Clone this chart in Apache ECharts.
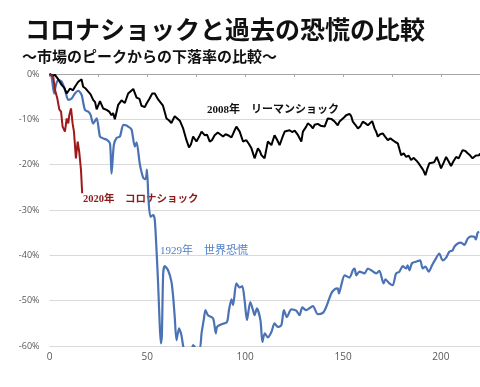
<!DOCTYPE html>
<html><head><meta charset="utf-8">
<script src="https://cdn.jsdelivr.net/npm/echarts@6/dist/echarts.min.js"></script>
<style>html,body{margin:0;padding:0;background:#fff}#c{width:480px;height:387px}</style>
</head><body><div id="c"></div>
<script>
// x: 経過日数(週) , y: ピークからの下落率(%)
const lehman2008 = [[0,0],[1.5,-0.3],[2.8,-0.2],[4.5,-1.2],[6.2,-2.4],[7.5,-3],[8.8,-4.3],[10.5,-3.2],[12,-3.6],[13,-2.8],[14.7,-1.7],[16.4,-1.2],[17.2,-2.8],[18.5,-3.2],[19.8,-3.9],[21,-4.5],[22.3,-5.7],[23.3,-6.2],[24.1,-7.8],[25.8,-6],[27.4,-7.6],[29.2,-7.9],[30.5,-8.3],[31.7,-9.1],[32.5,-8.6],[33.4,-10],[35.1,-6.8],[36.8,-5.8],[38.5,-6.4],[40.2,-4.3],[41.5,-3.8],[42.8,-3.3],[44.5,-5.2],[46,-5.5],[47,-7],[48.7,-7.3],[49.6,-6.5],[51,-5.5],[52.5,-4.3],[53.8,-4.3],[55.5,-5.6],[56.5,-5.7],[58,-7],[59.8,-9.8],[61,-10.2],[62.3,-10.8],[63.2,-10.9],[64,-9.3],[64.9,-9.4],[66.6,-10.3],[68.3,-12],[70,-14.6],[71.3,-16.2],[72.3,-15.5],[73.4,-13.8],[75.1,-14.9],[76.5,-13.8],[77.7,-12.7],[79.3,-13.5],[80.5,-13.4],[81.9,-14.9],[83,-14.6],[84.4,-13.5],[86,-12.9],[87,-12.7],[88.7,-13.8],[90,-13.3],[91.2,-13.5],[93,-14],[94.2,-12.8],[95.5,-11.6],[96.5,-12],[97.2,-12.7],[98.9,-14.9],[100.6,-14.6],[102,-15.5],[103.2,-16.4],[104.8,-18.6],[106.5,-16.4],[107.5,-17],[108.3,-17.9],[109.9,-18.6],[111.6,-14.9],[112.5,-15.3],[113.4,-15.7],[115,-13.5],[116.3,-14.5],[117.6,-15.7],[119,-14],[120.2,-12.7],[122.7,-12.4],[124,-12.8],[125.3,-12.5],[127,-13.5],[128.7,-14.9],[129.5,-12.7],[131.2,-11.6],[132,-10.9],[133.3,-11.3],[134.6,-12],[135.5,-11.2],[137.1,-11],[138.5,-11.4],[140.6,-11.6],[142.2,-9.8],[143,-10.2],[144,-9.9],[145.7,-10.5],[147.3,-11.3],[148.2,-10.5],[149.1,-10.2],[150.5,-9.6],[151.6,-9.1],[153.3,-8.8],[154.2,-9.3],[155,-10.5],[156.3,-11.2],[157.6,-12],[158.9,-11.5],[160.1,-10.5],[161.5,-10.9],[162.7,-11.3],[164.9,-10.4],[166.1,-12],[167,-12.8],[167.8,-13.8],[169,-13.3],[170.3,-13.1],[171.5,-13.8],[172.9,-14.6],[174.2,-14.2],[175.4,-14.6],[176.7,-15],[178,-15.3],[179.7,-17.9],[181,-17.5],[182.3,-18.3],[183.5,-18],[184.8,-19],[186,-18.5],[187.3,-19],[188.5,-19.6],[189.9,-20.5],[191,-21.2],[192.1,-22.3],[193,-21],[194.1,-19.7],[195.5,-19.6],[196.7,-19.4],[197.9,-18.3],[199,-19.5],[200.1,-20.8],[201.5,-19.5],[202.7,-18.3],[204,-19.3],[205.2,-20.3],[206.5,-19.2],[207.8,-18.3],[209.1,-18.6],[211.1,-16.8],[212.5,-17],[213.7,-17.5],[215,-18],[216.2,-18.6],[217.9,-18],[219.6,-17.9],[220,-17.5]];

const depression1929 = [[0,0],[1,-0.5],[2.4,-4.3],[3.3,-2.4],[4.5,-1.3],[6.2,-1.7],[7.9,-3.5],[9.6,-5.7],[11.3,-5.4],[13,-4.3],[14.7,-3.7],[16.4,-4.6],[18.1,-7.9],[19.8,-8.3],[21,-9],[22.3,-10.9],[24.1,-9.8],[25.8,-13.8],[27.4,-14.2],[29.2,-14.5],[30.9,-15.3],[31.7,-22],[32.9,-15.6],[34.3,-14.1],[36,-13.8],[37.7,-11.2],[39,-11.3],[40.2,-11.6],[41.9,-12.2],[43.6,-16],[44.5,-15.1],[46.2,-20],[47.9,-22.9],[49.1,-23.2],[49.8,-21.1],[50.6,-27.8],[51.6,-31.5],[53,-31.1],[53.8,-32.2],[54.7,-38.9],[55.5,-46.2],[56.3,-55],[56.9,-59.4],[57.4,-58],[58.1,-44],[58.9,-42.4],[60.6,-43.3],[62.3,-45.8],[63.2,-49.2],[64,-53.6],[64.9,-58.7],[66.2,-56.1],[67.4,-57.6],[68.3,-60],[70,-63],[72,-62],[73.4,-59.8],[75,-60.5],[76.8,-60.5],[77.7,-57.2],[78.8,-54.3],[79.7,-52.1],[81,-53.2],[83.6,-53.9],[85,-57.2],[85.6,-55.8],[87.9,-55.2],[90.7,-54.7],[91.7,-52.1],[93,-49.7],[93.8,-51],[95.5,-46.2],[97.2,-47.1],[98.5,-46.8],[99.7,-49.9],[100.9,-54.3],[102.6,-50.3],[104,-52.1],[104.8,-53.2],[106,-51.7],[107.8,-54.3],[108.8,-59.1],[110,-57.2],[111.6,-58.1],[113.4,-56.9],[115,-55],[116.7,-55.8],[118.5,-55.4],[119.8,-52.1],[121.3,-53.6],[123.6,-51.9],[126.1,-52.2],[127.8,-53.2],[129.2,-51.5],[131.2,-52.1],[134.6,-51.2],[137.1,-53],[139.7,-52.7],[141.4,-51.4],[144,-48.4],[145.7,-47.5],[147.3,-47.3],[147.9,-48.4],[149.1,-46.6],[150.8,-44.4],[153.3,-44.9],[155,-43.3],[155.9,-42.9],[156.8,-44.4],[158.4,-43.6],[161,-44],[162.7,-42.9],[164.4,-43.3],[167,-44],[168.6,-43.4],[170.7,-46.2],[171.7,-45.3],[173.7,-46.2],[175.4,-46.6],[177.1,-44],[178.8,-43.6],[180.5,-42.4],[182.3,-42.9],[183,-42.2],[183.9,-43.3],[185.3,-41.7],[187.3,-41.4],[189.4,-41.1],[190.7,-42.9],[192.1,-42.5],[193.8,-43.6],[195.5,-42.2],[197.2,-40.9],[199.2,-39.6],[200.9,-41.1],[202.7,-40.5],[204.3,-39.2],[206,-38.9],[206.9,-38.1],[208.6,-37.4],[210.3,-37.2],[212,-37.7],[213.7,-36.3],[215.4,-35.8],[217.1,-35.9],[217.9,-36.5],[218.8,-35],[219.6,-34.8]];

const corona2020 = [[0,0],[1.9,-0.6],[2.8,-3.5],[4,-5.4],[5,-7.8],[5.9,-8.3],[6.7,-11.6],[7.9,-12.7],[8.8,-9.8],[9.6,-10.9],[10.1,-9.1],[11,-7.6],[11.8,-10.9],[12.5,-12.7],[13.5,-18.6],[14.4,-14.9],[15.2,-17.2],[16.1,-21.2],[16.7,-26.3]];

const seriesNames = ['2008年　リーマンショック', '1929年　世界恐慌', '2020年　コロナショック'];
const titleText = 'コロナショックと過去の恐慌の比較';
const subtitleText = '～市場のピークからの下落率の比較～';

const chart = echarts.init(document.getElementById('c'), null, {renderer: 'canvas'});
const cjk = '"Noto Sans CJK JP", "Noto Sans", sans-serif';
const serifMix = '"Liberation Serif", "Noto Sans CJK JP", serif';
chart.setOption({
  animation: false,
  backgroundColor: '#fff',
  title: [
    {text: titleText, left: 20, top: 12, textStyle: {fontFamily: cjk, fontSize: 25, fontWeight: 'bold', color: '#111'}},
    {text: subtitleText, left: 17, top: 44, textStyle: {fontFamily: cjk, fontSize: 15, fontWeight: 'bold', color: '#111'}}
  ],
  grid: {left: 49.5, right: 0, top: 74, bottom: 41, containLabel: false},
  xAxis: {
    type: 'value', min: 0, max: 220, interval: 25,
    axisLine: {show: true, lineStyle: {color: '#a6a6a6', width: 1}},
    axisTick: {show: true, length: 3, lineStyle: {color: '#a6a6a6'}},
    splitLine: {show: false},
    axisLabel: {color: '#595959', fontFamily: '"Open Sans", sans-serif', fontSize: 10, margin: 6,
      showMaxLabel: false,
      formatter: v => (v % 50 === 0 ? String(v) : '')}
  },
  yAxis: {
    type: 'value', min: -60, max: 0, interval: 10,
    axisLine: {show: false}, axisTick: {show: false},
    splitLine: {lineStyle: {color: '#d9d9d9', width: 1}},
    axisLabel: {color: '#595959', fontFamily: '"Open Sans", sans-serif', fontSize: 9, margin: 10, formatter: v => v + '%'}
  },
  series: [
    {name: seriesNames[0], type: 'line', data: lehman2008, showSymbol: false, symbol: 'none',
     lineStyle: {color: '#000', width: 2}, z: 3},
    {name: seriesNames[1], type: 'line', data: depression1929, showSymbol: false, symbol: 'none', smooth: 0.25,
     lineStyle: {color: '#4a72b4', width: 2.2}, z: 2},
    {name: seriesNames[2], type: 'line', data: corona2020, showSymbol: false, symbol: 'none',
     lineStyle: {color: '#a01818', width: 2}, z: 4}
  ],
  graphic: [
    {type: 'text', left: 207, top: 105, style: {text: seriesNames[0], fill: '#111', font: 'bold 11px ' + serifMix}},
    {type: 'text', left: 83, top: 194, style: {text: seriesNames[2], fill: '#8b1c1c', font: 'bold 10.5px ' + serifMix}},
    {type: 'text', left: 160, top: 246, style: {text: seriesNames[1], fill: '#4f7fc6', font: '11px ' + serifMix}}
  ]
});
</script></body></html>
